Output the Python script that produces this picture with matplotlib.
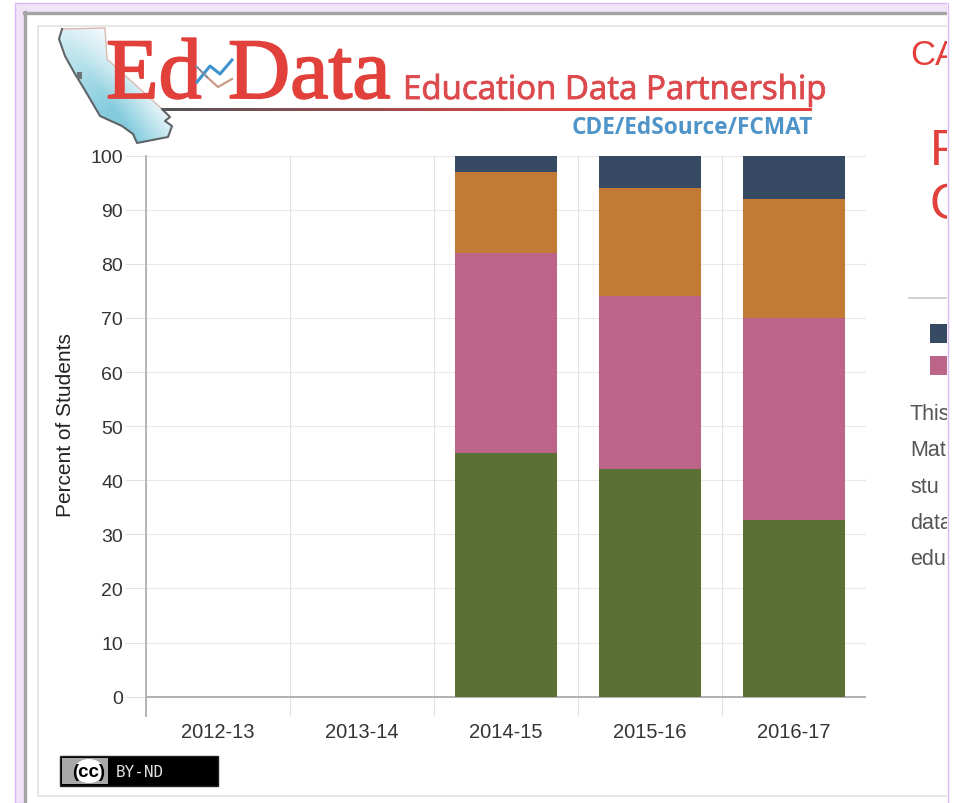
import numpy as np
import matplotlib
matplotlib.use("Agg")
import matplotlib.pyplot as plt
import matplotlib.patheffects as pe
from matplotlib.patches import Polygon, Rectangle, Ellipse

W, H = 957, 804

# Chart data
school_years = ["2012-13", "2013-14", "2014-15", "2015-16", "2016-17"]
green_band = [0, 0, 45, 42, 32.6]
pink_band = [0, 0, 37, 32, 37.4]
orange_band = [0, 0, 15, 20, 22]
navy_band = [0, 0, 3, 6, 8]
y_ticks = [0, 10, 20, 30, 40, 50, 60, 70, 80, 90, 100]
y_title = "Percent of Students"

GREEN, PINK, ORANGE, NAVY = "#5a7034", "#bd6489", "#c27a35", "#364a63"
RED = "#e2403a"
SANS = "Liberation Sans"

fig = plt.figure(figsize=(W / 100, H / 100), dpi=100, facecolor="white")


def px_axes(left, top, right, bottom, **kw):
    """Axes placed by pixel edges, measured from the top-left corner."""
    return fig.add_axes([left / W, 1 - bottom / H, (right - left) / W, (bottom - top) / H], **kw)


# Page furniture drawn behind the chart, clipped at the right edge of the frame
page = px_axes(0, 0, 947, H, zorder=0)
page.axis("off")
page.add_patch(Rectangle((15, 4), 932, 800, fc="#f1e4f8", ec="#d9b8f5", lw=1))
page.add_patch(Rectangle((24, 13), 923, 791, fc="white", ec="none"))
page.plot([24, 947], [13.5, 13.5], color="#a3a3a3", lw=2.4)
page.plot([25, 25], [13, 804], color="#a3a3a3", lw=2.4)
page.plot([947, 38, 38, 947], [27, 27, 797, 797], color="#e4e4e4", lw=1.2)

# Cut-off heading, legend and paragraph in the neighbouring column
page.text(910, 55.5, "CA", color=RED, fontsize=25, family=SANS, va="center", clip_on=True)
page.text(930, 152, "F", color=RED, fontsize=36, family=SANS, va="center", clip_on=True)
page.text(930, 206, "C", color=RED, fontsize=36, family=SANS, va="center", clip_on=True)
page.plot([909, 947], [299, 299], color="#c8c8c8", lw=1.2)
page.add_patch(Rectangle((930, 325), 17, 19, fc=NAVY, ec="none"))
page.add_patch(Rectangle((930, 357), 17, 19, fc=PINK, ec="none"))
for word, yc in zip(["This", "Mat", "stu", "data", "edu"], [415, 451, 488, 524, 560]):
    page.text(910, yc, word, color="#555555", fontsize=15.5, family=SANS, va="center", clip_on=True)

# Logo: state shape shaded from the coast inland
outline = np.array([(62, 30), (105, 29), (107, 60), (162, 110), (170, 118), (165, 122),
                    (172, 127), (168, 138), (137, 144), (133, 135), (122, 127),
                    (100, 117), (93, 105), (83, 88), (75, 75), (65, 57), (59, 40)])
px, py = np.meshgrid(np.linspace(58, 172, 160), np.linspace(27, 147, 160))
inland = (px - 62) * 0.803 - (py - 40) * 0.596
along = ((px - 62) * 0.596 + (py - 40) * 0.803) / 130
shade = np.clip(1 - inland / 48, 0, 1) * np.clip(0.4 + along * 0.9, 0, 1)
low, high = np.array([1.0, 1.0, 1.0]), np.array([0.52, 0.80, 0.87])
grad = low + (high - low) * shade[..., None]
img = page.imshow(grad, extent=(58, 172, 147, 27), aspect="auto", zorder=1, interpolation="bilinear")
shape = Polygon(outline, closed=True, fc="none", ec="none", zorder=1)
page.add_patch(shape)
img.set_clip_path(shape)
page.plot(outline[[0, 1, 2, 3], 0], outline[[0, 1, 2, 3], 1], color="#d9b9b0", lw=1, zorder=2)
coast = outline[list(range(3, 17)) + [0]]
page.plot(coast[:, 0], coast[:, 1], color="#5f6468", lw=1.5, zorder=2, solid_joinstyle="round")
page.add_patch(Rectangle((77, 73), 5, 7, fc="#6c7276", ec="none", zorder=2))

thick = [pe.withStroke(linewidth=1.3, foreground=RED)]
page.text(106, 99, "Ed", color=RED, fontsize=62, family="Liberation Serif", va="baseline",
          zorder=3, path_effects=thick)
page.text(228, 99, "Data", color=RED, fontsize=62, family="Liberation Serif", va="baseline",
          zorder=3, path_effects=thick)
page.plot([197, 210, 220, 232], [83, 67, 75, 61], color="#3f93cf", lw=2.2, zorder=3)
page.plot([207, 218, 232], [78, 88, 80], color="#c99a84", lw=1.6, zorder=3)
page.plot([196, 207], [67, 78], color="#7a8a96", lw=1.4, zorder=3)
page.text(403, 100, "Education Data Partnership", color="#dd4a4e", fontsize=23.8,
          family="Open Sans", va="baseline", zorder=3,
          path_effects=[pe.withStroke(linewidth=0.6, foreground="#dd4a4e")])

# Rule under the logo, fading from charcoal into red
start, stop = np.array([0.33, 0.33, 0.35]), np.array([0.88, 0.27, 0.25])
rule = start + (stop - start) * np.clip(np.linspace(0, 1.6, 200), 0, 1)[None, :, None]
page.imshow(rule, extent=(162, 812, 112, 109), aspect="auto", zorder=3)
page.text(572, 134, "CDE/EdSource/FCMAT", color="#4f94c9", fontsize=16.3, family="Open Sans",
          weight="bold", va="baseline", zorder=3)

# Licence badge
page.add_patch(Rectangle((60, 757), 158, 30, fc="black", ec="#222222", lw=1, zorder=3))
page.add_patch(Rectangle((62, 759), 46, 26, fc="#a8a8a8", ec="none", zorder=3))
page.add_patch(Ellipse((89, 772), 30, 24, fc="white", ec="none", zorder=4))
page.text(89, 773, "(cc)", fontsize=13.5, weight="bold", family=SANS, ha="center", va="center", zorder=5)
page.text(116, 773, "BY-ND", color="#e0e0e0", fontsize=11.5, family="DejaVu Sans Mono", va="center", zorder=5)

page.set_xlim(0, 947)
page.set_ylim(H, 0)

# Stacked bar chart
ax = px_axes(146, 156.6, 866, 716.6, zorder=2)
ax.patch.set_alpha(0)
x = np.arange(len(school_years))
bottoms = np.zeros(len(x))
for values, colour in zip([green_band, pink_band, orange_band, navy_band], [GREEN, PINK, ORANGE, NAVY]):
    ax.bar(x, values, width=0.715, bottom=bottoms, color=colour, linewidth=0, zorder=3)
    bottoms += np.array(values)

ax.set_xlim(-0.5, 4.5)
ax.set_ylim(-3.51, 100)
for side in ["top", "right", "bottom"]:
    ax.spines[side].set_visible(False)
ax.spines["left"].set_color("#b0b0b0")
ax.spines["left"].set_linewidth(1.3)

ax.set_yticks(y_ticks)
ax.set_yticklabels([str(v) for v in y_ticks], fontsize=14, family=SANS, color="#333333")
ax.tick_params(axis="y", length=15, width=0.8, color="#e2e2e2", pad=1.5)
ax.set_xticks(x)
ax.set_xticklabels(school_years, fontsize=14.5, family=SANS, color="#333333")
ax.tick_params(axis="x", length=0, pad=4.5)
ax.set_xticks(np.arange(-0.5, 5), minor=True)
ax.tick_params(axis="x", which="minor", length=0)
ax.grid(axis="y", color="#e8e8e8", lw=0.8, zorder=0)
ax.grid(axis="x", which="minor", color="#e0e0e0", lw=0.8, zorder=0)
ax.axhline(0, color="#b0b0b0", lw=1.4, zorder=2)
ax.set_ylabel(y_title, fontsize=15, family=SANS, color="#222222")
ax.yaxis.set_label_coords((75 - 146) / 720, (716.6 - 425.5) / 560, transform=ax.transAxes)

# Frame edge of the crop
fig.add_artist(plt.Line2D([947.5 / W] * 2, [0, 1 - 4 / H], color="#d9b8f5", lw=1))

fig.savefig("out.png", dpi=100)
